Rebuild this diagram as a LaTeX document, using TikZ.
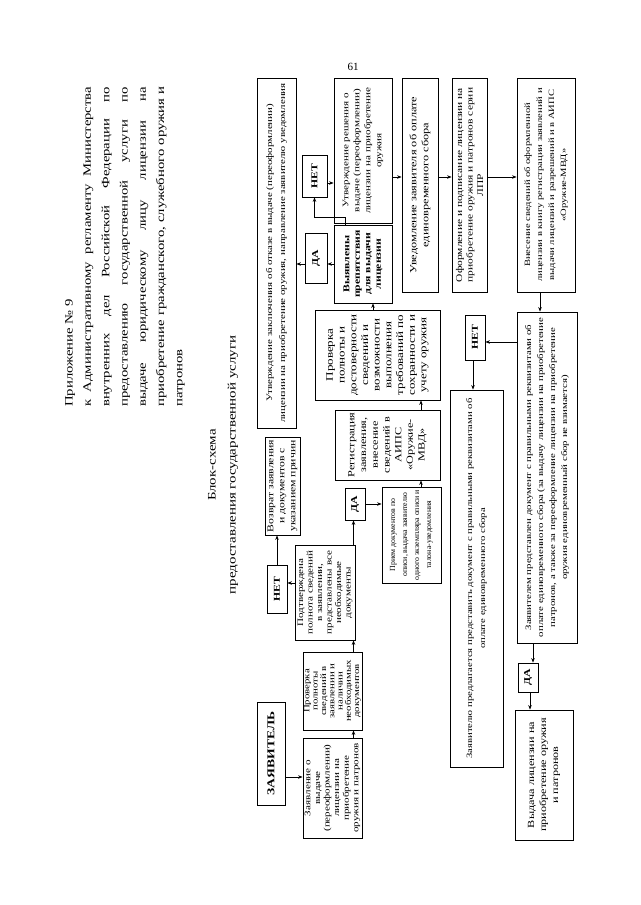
\documentclass[tikz,border=0pt]{standalone}
\usepackage{fontspec}
\setmainfont{Liberation Serif}
\newfontfamily\rotfont[FakeStretch=1.3]{Liberation Serif}
\newcommand\fs[2]{\rotfont\fontsize{#1}{#2}\selectfont}
\usetikzlibrary{arrows.meta, positioning}

\begin{document}
\begin{tikzpicture}[
    x=1pt, y=1pt,
    pbox/.style={rectangle, draw=black, line width=0.8pt, fill=white,
                 rotate=90, align=center, inner sep=1pt},
    ybox/.style={pbox, font=\fs{9}{10}\bfseries},
    a/.style={-{Stealth[length=4.5pt, width=3.5pt]}, line width=0.7pt}
]
\fill[white] (0,0) rectangle (640,905);
\useasboundingbox (0,0) rectangle (640,905);

% header
\node[rotate=90, anchor=north west, align=left, inner sep=0pt,
      font=\fs{11.3}{18.3}] (head) at (65, 498)
    {\makebox[320pt][l]{Приложение № 9}\\
     \makebox[320pt][s]{к Административному регламенту Министерства}\\
     \makebox[320pt][s]{внутренних дел Российской Федерации по}\\
     \makebox[320pt][s]{предоставлению государственной услуги по}\\
     \makebox[320pt][s]{выдаче юридическому лицу лицензии на}\\
     \makebox[320pt][s]{приобретение гражданского, служебного оружия и}\\
     \makebox[320pt][l]{патронов}};
\node[rotate=90, align=center, font=\fs{11.5}{20}] (title) at (223, 440)
    {Блок-схема\\предоставления государственной услуги};
\node[font=\fontsize{11}{12}\selectfont] (pnum) at (353, 838) {61};

% left part
\node[pbox, minimum width=103pt, minimum height=28pt,
      font=\fs{10.5}{12}\bfseries] (zayav) at (271, 151.5) {ЗАЯВИТЕЛЬ};
\node[pbox, minimum width=100pt, minimum height=59pt, font=\fs{8.5}{9.6}]
    (zayavl) at (332.5, 117)
    {Заявление о\\выдаче\\(переоформлении)\\лицензии на\\приобретение\\оружия и патронов};
\node[pbox, minimum width=78pt, minimum height=59pt, font=\fs{8.3}{8.3}]
    (prov1) at (332.5, 214)
    {Проверка\\полноты\\сведений в\\заявлении и\\наличии\\необходимых\\документов};
\node[pbox, minimum width=95pt, minimum height=60pt, font=\fs{8.5}{9.5}]
    (podtv) at (325, 312.5)
    {Подтверждена\\полнота сведений\\в заявлении,\\представлены все\\необходимые\\документы};
\node[ybox, minimum width=48pt, minimum height=20pt] (net1) at (277, 316) {НЕТ};
\node[pbox, minimum width=98pt, minimum height=35pt, font=\fs{9}{11}]
    (vozvrat) at (282.5, 419)
    {Возврат заявления\\и документов с\\указанием причин};
\node[ybox, minimum width=32pt, minimum height=20pt] (da1) at (355, 401) {ДА};
\node[pbox, minimum width=96pt, minimum height=59pt,
      font=\rmfamily\fontsize{7.8}{12}\selectfont]
    (priem) at (411.5, 370)
    {Прием документов по\\описи, выдача заявителю\\одного экземпляра описи и\\талона-уведомления};
\node[pbox, minimum width=70pt, minimum height=105pt, font=\fs{9.4}{11.7}]
    (reg) at (387.5, 460)
    {Регистрация\\заявления,\\внесение\\сведений в\\АИПС\\«Оружие-\\МВД»};
\node[pbox, minimum width=90pt, minimum height=125pt, font=\fs{10}{11.7}]
    (prov2) at (377.5, 550)
    {Проверка\\полноты и\\достоверности\\сведений и\\возможности\\выполнения\\требований по\\сохранности и\\учету оружия};

% upper part
\node[pbox, minimum width=78pt, minimum height=58pt, font=\fs{9}{10.5}\bfseries]
    (vyyav) at (363, 641) {Выявлены\\препятствия\\для выдачи\\лицензии};
\node[ybox, minimum width=50pt, minimum height=22pt] (da2) at (316, 647) {ДА};
\node[ybox, minimum width=42pt, minimum height=25pt] (net2) at (314.5, 729) {НЕТ};
\node[pbox, minimum width=350pt, minimum height=39pt, font=\fs{8.4}{13}]
    (otkaz) at (276.5, 652)
    {Утверждение заключения об отказе в выдаче (переоформлении)\\
     лицензии на приобретение оружия, направление заявителю уведомления};
\node[pbox, minimum width=145pt, minimum height=58pt, font=\fs{8.5}{11}]
    (resh) at (363, 754.5)
    {Утверждение решения о\\выдаче (переоформлении)\\лицензии на приобретение\\оружия};
\node[pbox, minimum width=214pt, minimum height=36pt, font=\fs{9.5}{12}]
    (uved) at (420, 720)
    {Уведомление заявителя об оплате\\единовременного сбора};
\node[pbox, minimum width=214pt, minimum height=35pt, font=\fs{8.8}{10.5}]
    (oform) at (469.5, 720)
    {Оформление и подписание лицензии на\\приобретение оружия и патронов серии\\ЛПР};
\node[pbox, minimum width=214pt, minimum height=58pt, font=\fs{8.1}{12}]
    (vnes) at (546, 720)
    {Внесение сведений об оформленной\\лицензии в книгу регистрации заявлений и\\выдачи лицензий и разрешений и в АИПС\\«Оружие-МВД»};

% right part
\node[pbox, minimum width=331pt, minimum height=60pt, font=\fs{8.3}{12}]
    (predst) at (547, 427.5)
    {Заявителем представлен документ с правильными реквизитами об\\
     оплате единовременного сбора (за выдачу лицензии на приобретение\\
     патронов, а также за переоформление лицензии на приобретение\\
     оружия единовременный сбор не взимается)};
\node[ybox, minimum width=45pt, minimum height=20pt] (net3) at (475, 567.5) {НЕТ};
\node[pbox, minimum width=377pt, minimum height=53pt, font=\fs{8.2}{13}]
    (predl) at (476.5, 326.5)
    {Заявителю предлагается представить документ с правильными реквизитами об\\
     оплате единовременного сбора};
\node[ybox, minimum width=29pt, minimum height=20pt] (da3) at (528, 227.5) {ДА};
\node[pbox, minimum width=130pt, minimum height=58pt, font=\fs{9.4}{12}]
    (vydacha) at (544, 130)
    {Выдача лицензии на\\приобретение оружия\\и патронов};

% connectors
\draw[a] ([yshift=-23.5pt]zayav.south) -- ([yshift=11pt]zayavl.north);
\draw[a] ([xshift=21pt]zayavl.east) -- ([xshift=21pt]prov1.west);
\draw[a] ([xshift=21pt]prov1.east) -- ([xshift=28.5pt]podtv.west);
\draw[a] ([xshift=28.5pt]podtv.east) -- ([xshift=-1.5pt]da1.west);
\draw[a] ([yshift=9.5pt]podtv.north) -- ([yshift=6pt]net1.south);
\draw[a] (net1.east) -- ([xshift=-5.5pt]vozvrat.west);
\draw[a] (da1.south) -- ([yshift=31pt]priem.north);
\draw[a] ([xshift=9.5pt]priem.east) -- ([xshift=33.5pt]reg.west);
\draw[a] ([xshift=33.5pt]reg.east) -- ([xshift=43.5pt]prov2.west);
\draw[a] ([xshift=-4.5pt]prov2.east) -- ([xshift=10pt]vyyav.west);
\draw[a] (vyyav.north) -- ([yshift=-6pt]da2.south);
\draw[a] ([yshift=-6pt]da2.north) -- ([yshift=-11pt]otkaz.south);
\draw[a] ([xshift=-18pt]vyyav.east) -- ++(0,7) -| (net2.west);
\draw[a] ([yshift=-7pt]net2.south) -- ([yshift=-32.5pt]resh.north);
\draw[a] ([yshift=-26.5pt]resh.south) -- ([yshift=8pt]uved.north);
\draw[a] ([yshift=8pt]uved.south) -- ([yshift=8pt]oform.north);
\draw[a] ([yshift=8pt]oform.south) -- ([yshift=8pt]vnes.north);
\draw[a] ([xshift=-6pt]vnes.west) -- ([xshift=-7pt]predst.east);
\draw[a] ([yshift=135.5pt]predst.north) -- ([yshift=-4.5pt]net3.south);
\draw[a] ([xshift=-2pt]net3.west) -- ([xshift=-3.5pt]predl.east);
\draw[a] ([xshift=-14pt]predst.west) -- ([xshift=5pt]da3.east);
\draw[a] ([xshift=2pt]da3.west) -- ([xshift=-14pt]vydacha.east);
\end{tikzpicture}
\end{document}
